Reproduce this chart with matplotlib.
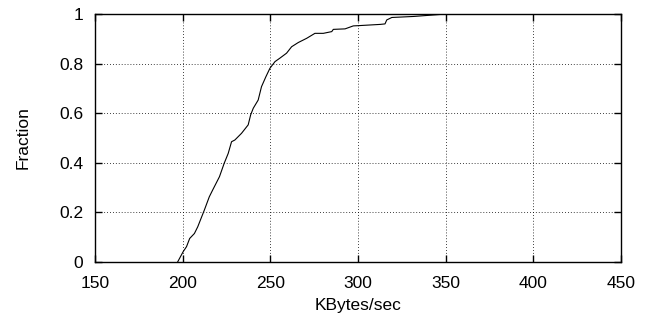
import matplotlib
matplotlib.use("Agg")
import matplotlib.pyplot as plt
import numpy as np

# CDF of throughput
kbytes = [197.0, 200.2, 202.1, 203.9, 206.6, 208.5, 210.4, 212.3, 215.1, 217.0,
          220.9, 223.6, 225.9, 227.8, 229.7, 233.5, 237.3, 238.7, 240.2, 243.0,
          244.9, 247.4, 249.7, 252.6, 255.4, 259.2, 262.1, 265.9, 270.7, 275.4,
          280.2, 285.0, 285.9, 292.6, 297.3, 300.2, 312.6, 315.4, 316.4, 319.3,
          331.6, 348.6, 350.0]
fraction = [0.0, 0.042, 0.062, 0.095, 0.115, 0.142, 0.176, 0.21, 0.263, 0.29,
            0.344, 0.398, 0.438, 0.485, 0.492, 0.519, 0.553, 0.593, 0.62, 0.653,
            0.707, 0.747, 0.781, 0.808, 0.822, 0.842, 0.868, 0.885, 0.902, 0.922,
            0.922, 0.929, 0.938, 0.94, 0.952, 0.953, 0.958, 0.96, 0.976, 0.986,
            0.99, 0.999, 1.0]

xticks = [150, 200, 250, 300, 350, 400, 450]
yticks = [0, 0.2, 0.4, 0.6, 0.8, 1]
ytick_labels = ['0', '0.2', '0.4', '0.6', '0.8', '1']

plt.rcParams['font.family'] = ['Liberation Sans', 'DejaVu Sans']
plt.rcParams['font.size'] = 12.5

fig = plt.figure(figsize=(6.48, 3.18), dpi=100)
ax = fig.add_axes([0.147, 0.176, 0.811, 0.780])

ax.plot(kbytes, fraction, color='black', lw=0.8)

ax.set_xlim(150, 450)
ax.set_ylim(0, 1)
ax.set_xticks(xticks)
ax.set_yticks(yticks)
ax.set_yticklabels(ytick_labels)

ax.grid(True, color='black', linestyle=(0, (1, 2.5)), linewidth=0.6)
ax.tick_params(direction='in', length=5, width=1, top=True, right=True)
ax.tick_params(axis='x', pad=10)
ax.tick_params(axis='y', pad=8.5)
for s in ax.spines.values():
    s.set_linewidth(1.0)

ax.set_xlabel('KBytes/sec', labelpad=5)
ax.set_ylabel('Fraction', labelpad=21)

fig.savefig('out.png', dpi=100)
